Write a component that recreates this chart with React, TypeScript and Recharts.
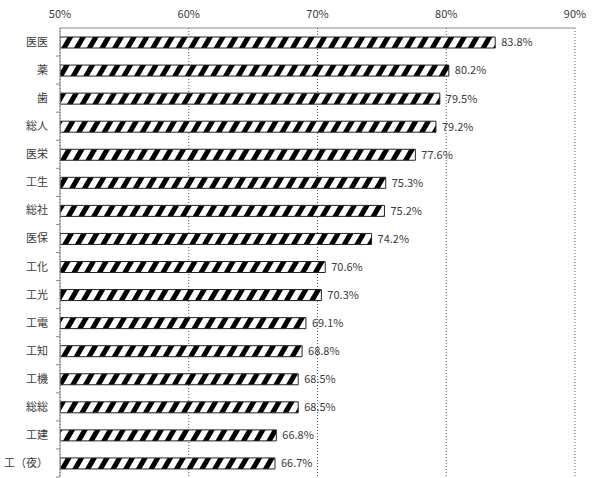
import { BarChart, Bar, XAxis, YAxis, CartesianGrid, LabelList } from 'recharts'

const categories = ['医医', '薬', '歯', '総人', '医栄', '工生', '総社', '医保', '工化', '工光', '工電', '工知', '工機', '総総', '工建', '工（夜）']
const rates = [83.8, 80.2, 79.5, 79.2, 77.6, 75.3, 75.2, 74.2, 70.6, 70.3, 69.1, 68.8, 68.5, 68.5, 66.8, 66.7]
const xTicks = [50, 60, 70, 80, 90]

const data = categories.map((name, i) => ({ name, rate: rates[i] }))

const FONT = '"Noto Sans CJK JP", "Noto Sans", sans-serif'
const TEXT = '#3a3a3a'
const AXIS = '#888'
const PLOT_TOP = 28
const PLOT_H = 449
const Y_AXIS_W = 60

// label plus a small tick mark on the boundary below each category
function CategoryTick({ y, payload }: { y?: number; payload?: { value: string } }) {
  const band = PLOT_H / categories.length
  const ty = (y ?? 0) + band / 2
  return (
    <g>
      <text x={48} y={y} dy={4} textAnchor="end" fontSize={11} fill={TEXT} fontFamily={FONT}>
        {payload?.value}
      </text>
      <line x1={Y_AXIS_W - 4} x2={Y_AXIS_W} y1={ty} y2={ty} stroke={AXIS} />
    </g>
  )
}

export default function App() {
  return (
    <div style={{ position: 'absolute', left: 0, top: 0, background: '#fff' }}>
      <BarChart
        width={595}
        height={478}
        data={data}
        layout="vertical"
        margin={{ top: 0, right: 20, left: 0, bottom: 478 - PLOT_TOP - PLOT_H }}
      >
        <defs>
          <pattern id="stripes" patternUnits="userSpaceOnUse" width={11} height={12} patternTransform="rotate(30)">
            <rect x={0} y={0} width={11} height={12} fill="#fff" />
            <rect x={0} y={0} width={5} height={12} fill="#000" />
          </pattern>
        </defs>
        <CartesianGrid horizontal={false} stroke="#555" strokeDasharray="1 2" />
        <XAxis
          type="number"
          orientation="top"
          domain={[50, 90]}
          ticks={xTicks}
          height={PLOT_TOP}
          tickFormatter={(v: number) => `${v}%`}
          tick={{ fontSize: 11, fill: TEXT, fontFamily: FONT }}
          tickLine={false}
          tickMargin={4}
          axisLine={{ stroke: AXIS }}
          allowDataOverflow
          interval={0}
        />
        <YAxis
          type="category"
          dataKey="name"
          width={Y_AXIS_W}
          tick={<CategoryTick />}
          tickLine={false}
          axisLine={{ stroke: AXIS }}
          interval={0}
        />
        <Bar dataKey="rate" fill="url(#stripes)" stroke="#222" strokeWidth={1} barSize={11} isAnimationActive={false}>
          <LabelList
            dataKey="rate"
            position="right"
            offset={6}
            formatter={(v: number) => `${v.toFixed(1)}%`}
            style={{ fontSize: 11, fill: TEXT, fontFamily: FONT }}
          />
        </Bar>
      </BarChart>
    </div>
  )
}
